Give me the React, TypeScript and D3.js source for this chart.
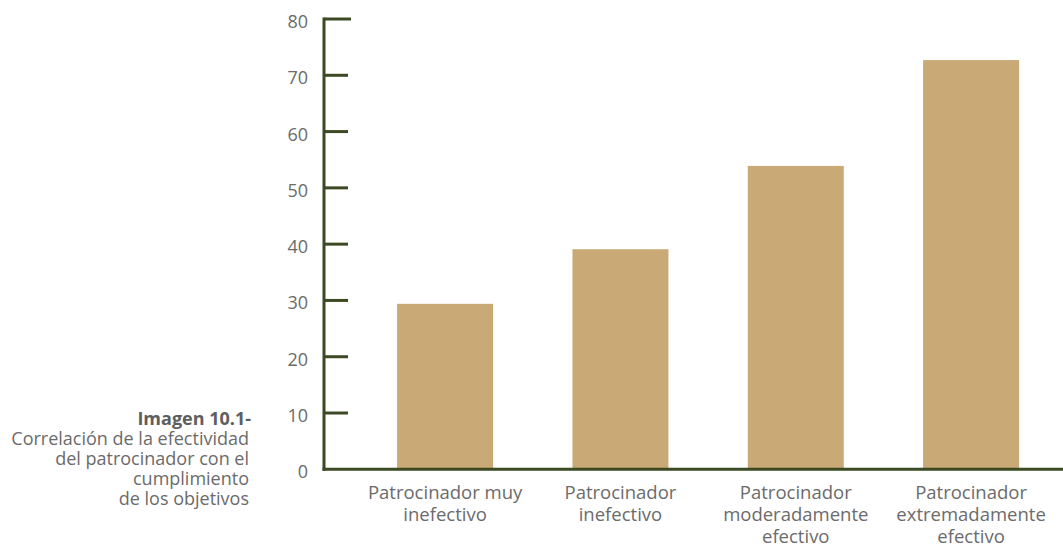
import React, { useEffect, useRef } from "react";
import * as d3 from "d3";

const categories = [
  ["Patrocinador muy", "inefectivo"],
  ["Patrocinador", "inefectivo"],
  ["Patrocinador", "moderadamente", "efectivo"],
  ["Patrocinador", "extremadamente", "efectivo"],
];
const values = [29.4, 39.1, 53.9, 72.7];
const yTicks = [0, 10, 20, 30, 40, 50, 60, 70, 80];
const captionTitle = "Imagen 10.1-";
const captionLines = [
  "Correlación de la efectividad",
  "del patrocinador con el",
  "cumplimiento",
  "de los objetivos",
];

const W = 1063;
const H = 544;
const FONT = "'Open Sans', 'Noto Sans', sans-serif";
const AXIS = "#3b4a22";
const BAR = "#c9a975";
const TEXT = "#6b6b6b";

export default function App() {
  const ref = useRef<SVGSVGElement>(null);
  useEffect(() => {
    const svg = d3.select(ref.current);
    svg.selectAll("*").remove();
    const axisX = 324;
    const y = d3.scaleLinear().domain([0, 80]).range([469.3, 19]);
    const x = d3
      .scaleBand<number>()
      .domain(categories.map((_, i) => i))
      .range([357.5, 1058.7])
      .paddingInner(0.4525)
      .paddingOuter(0.226);

    // bars
    svg
      .append("g")
      .selectAll("rect")
      .data(values)
      .join("rect")
      .attr("x", (_, i) => x(i)!)
      .attr("width", x.bandwidth())
      .attr("y", (d) => y(d))
      .attr("height", (d) => y(0) - y(d))
      .attr("fill", BAR);

    // y axis line
    svg
      .append("line")
      .attr("x1", axisX)
      .attr("x2", axisX)
      .attr("y1", y(80) - 1.5)
      .attr("y2", y(0) + 1.5)
      .attr("stroke", AXIS)
      .attr("stroke-width", 3);
    // baseline
    svg
      .append("line")
      .attr("x1", axisX - 1.5)
      .attr("x2", W)
      .attr("y1", y(0))
      .attr("y2", y(0))
      .attr("stroke", AXIS)
      .attr("stroke-width", 3);
    // ticks
    const tg = svg.append("g");
    tg.selectAll("line")
      .data(yTicks.filter((t) => t !== 0))
      .join("line")
      .attr("x1", axisX)
      .attr("x2", (t) => (t === 80 ? axisX + 27 : axisX + 24))
      .attr("y1", (t) => y(t))
      .attr("y2", (t) => y(t))
      .attr("stroke", AXIS)
      .attr("stroke-width", 3);
    tg.selectAll("text")
      .data(yTicks)
      .join("text")
      .attr("x", 308)
      .attr("y", (t) => y(t) + 9)
      .attr("text-anchor", "end")
      .attr("font-family", FONT)
      .attr("font-size", 18)
      .attr("fill", TEXT)
      .text((t) => String(t));

    // x labels
    const lg = svg.append("g");
    categories.forEach((lines, i) => {
      const cx = x(i)! + x.bandwidth() / 2;
      const t = lg
        .append("text")
        .attr("text-anchor", "middle")
        .attr("font-family", FONT)
        .attr("font-size", 18.5)
        .attr("fill", TEXT);
      lines.forEach((l, j) => {
        t.append("tspan")
          .attr("x", cx)
          .attr("y", 499.3 + j * 21.7)
          .text(l);
      });
    });

    // caption
    const cg = svg.append("g").attr("font-family", FONT).attr("text-anchor", "end");
    cg.append("text")
      .attr("x", 251)
      .attr("y", 425)
      .attr("font-size", 18)
      .attr("font-weight", "bold")
      .attr("fill", "#5e5e5e")
      .text(captionTitle);
    captionLines.forEach((l, j) => {
      cg.append("text")
        .attr("x", 249)
        .attr("y", 445 + j * 20)
        .attr("font-size", 18)
        .attr("fill", TEXT)
        .text(l);
    });
  }, []);
  return (
    <svg
      ref={ref}
      width={W}
      height={H}
      style={{ position: "absolute", left: 0, top: 0, background: "#fff" }}
    />
  );
}
